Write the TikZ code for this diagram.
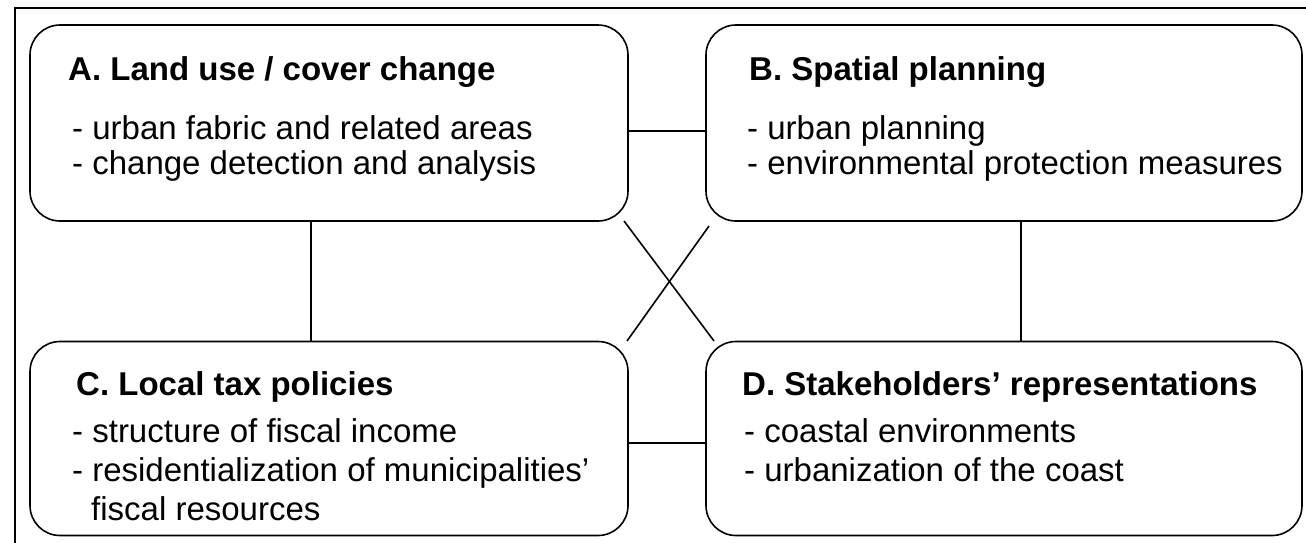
\documentclass[tikz,border=0pt]{standalone}
\usepackage{fontspec}
\setmainfont{Liberation Sans}
\begin{document}
\begin{tikzpicture}[x=1pt,y=-1pt,
  box/.style={draw, line width=1.6pt, rounded corners=30pt, minimum width=598pt, minimum height=196pt, inner sep=0pt},
  ttl/.style={anchor=base west, inner sep=0pt, font=\fontsize{33}{38}\selectfont\bfseries},
  itm/.style={anchor=base west, inner sep=0pt, font=\fontsize{33}{38}\selectfont},
  link/.style={line width=1.6pt}]
\useasboundingbox (0,0) rectangle (1306,542);
\draw[line width=1.4pt] (15,8) rectangle (1330,570);
% boxes
\node[box] (A) at (329,123) {};
\node[box, minimum width=596pt] (B) at (1004,123) {};
\node[box, minimum height=194pt] (C) at (329,438.5) {};
\node[box, minimum width=596pt, minimum height=194pt] (D) at (1004,438.5) {};
% texts
\node[ttl] (At) at (68,80) {A. Land use / cover change};
\node[itm] (A1) at (72,139) {- urban fabric and related areas};
\node[itm] (A2) at (72,174) {- change detection and analysis};
\node[ttl] (Bt) at (749,80) {B. Spatial planning};
\node[itm] (B1) at (747,139) {- urban planning};
\node[itm] (B2) at (747,174) {- environmental protection measures};
\node[ttl] (Ct) at (76,395) {C. Local tax policies};
\node[itm] (C1) at (72,442) {- structure of fiscal income};
\node[itm] (C2) at (72,481) {- residentialization of municipalities’};
\node[itm] (C3) at (91,520) {fiscal resources};
\node[ttl] (Dt) at (742,395) {D. Stakeholders’ representations};
\node[itm] (D1) at (744,442) {- coastal environments};
\node[itm] (D2) at (744,481) {- urbanization of the coast};
% connectors
\coordinate (ab) at (0,131);
\coordinate (cd) at (0,443);
\coordinate (ac) at (311,0);
\coordinate (bd) at (1021,0);
\draw[link] (A.east |- ab) -- (B.west |- ab);
\draw[link] (C.east |- cd) -- (D.west |- cd);
\draw[link] (A.south -| ac) -- (C.north -| ac);
\draw[link] (B.south -| bd) -- (D.north -| bd);
\coordinate (x1) at (624,221);
\coordinate (x2) at (714,341);
\coordinate (x3) at (709,226);
\coordinate (x4) at (627,341);
\draw[link] (x1) -- (x2);
\draw[link] (x3) -- (x4);
\end{tikzpicture}
\end{document}
